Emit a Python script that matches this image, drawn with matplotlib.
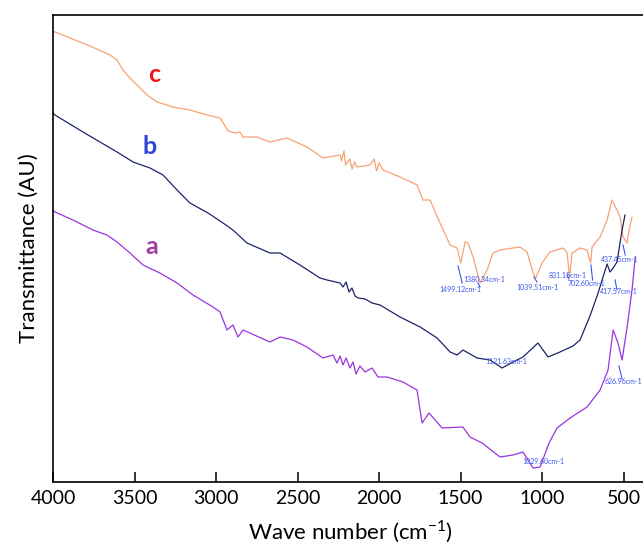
import matplotlib
matplotlib.use("Agg")
from matplotlib import pyplot as plt

plt.rcParams['font.family'] = ['Lato', 'DejaVu Sans']

# FTIR spectra (wavenumber cm-1, transmittance a.u.)
wn_c = [4000, 3988, 3896, 3773, 3650, 3607, 3571, 3528, 3466, 3423, 3362, 3301,
        3264, 3160, 3055, 2975, 2926, 2883, 2853, 2834, 2748, 2669, 2564, 2442,
        2344, 2239, 2230, 2215, 2205, 2196, 2180, 2165, 2150, 2135, 2055, 2030,
        2015, 2000, 1975, 1871, 1767, 1730, 1687, 1626, 1564, 1521, 1499, 1472,
        1454, 1423, 1380, 1337, 1301, 1258, 1178, 1135, 1092, 1055, 1039, 1000,
        951, 871, 847, 831, 816, 767, 724, 702, 693, 644, 601, 571, 540, 521,
        503, 478, 466, 448]
t_c = [450, 449, 443, 435, 426, 421, 411, 403, 393, 386, 379, 376,
       374, 371, 366, 363, 350, 348, 349, 344, 344, 339, 343, 334,
       323, 326, 320, 330, 316, 318, 322, 312, 319, 314, 316, 322,
       310, 318, 311, 304, 296, 281, 281, 258, 236, 233, 218, 239,
       238, 224, 198, 211, 228, 231, 233, 234, 229, 208, 203, 218,
       229, 233, 229, 204, 228, 233, 231, 218, 234, 244, 261, 281, 271, 264,
       244, 238, 251, 264]

wn_b = [4000, 3988, 3816, 3712, 3607, 3509, 3405, 3325, 3239, 3160, 3049, 2957,
        2896, 2810, 2669, 2607, 2485, 2362, 2319, 2239, 2221, 2202, 2184, 2166,
        2147, 2129, 2086, 2043, 1994, 1871, 1748, 1644, 1564, 1521, 1485, 1399,
        1319, 1245, 1178, 1117, 1025, 963, 890, 810, 767, 706, 656, 626, 601,
        583, 564, 540, 509, 491]
t_b = [368, 366, 349, 339, 329, 319, 313, 306, 291, 278, 268, 258,
       251, 238, 228, 228, 216, 203, 201, 198, 194, 199, 189, 193,
       185, 183, 182, 178, 176, 164, 154, 143, 129, 126, 131, 123,
       121, 113, 119, 124, 138, 124, 129, 135, 141, 165, 188, 204, 217,
       209, 213, 219, 251, 266]

wn_a = [4000, 3988, 3877, 3816, 3755, 3669, 3607, 3528, 3448, 3344, 3239, 3141,
        3049, 3018, 2975, 2933, 2896, 2865, 2834, 2669, 2607, 2528, 2442, 2344,
        2282, 2258, 2239, 2221, 2202, 2178, 2160, 2141, 2117, 2086, 2043, 2006,
        1951, 1853, 1767, 1736, 1693, 1613, 1485, 1442, 1368, 1258, 1178, 1117,
        1055, 1012, 957, 908, 828, 724, 644, 595, 564, 534, 509, 478, 448, 429]
t_a = [271, 269, 261, 256, 251, 246, 239, 228, 216, 208, 198, 186,
       177, 174, 169, 151, 156, 144, 151, 139, 144, 141, 134, 123,
       126, 118, 125, 116, 123, 113, 119, 107, 115, 109, 113, 104,
       104, 99, 91, 58, 68, 53, 54, 44, 38, 24, 26, 29,
       13, 14, 38, 53, 63, 74, 91, 111, 151, 138, 121, 154, 191, 223]

# peak labels: text, text position, leader line
peak_labels = ["1499.12cm-1", "1380.34cm-1", "1039.51cm-1", "831.15cm-1",
               "702.60cm-1", "437.45cm-1", "417.57cm-1", "1121.63cm-1",
               "1029.60cm-1", "626.96cm-1"]
peak_text_wn = [1503, 1356, 1031, 840, 730, 638, 644, 1350, 1123, 618]
peak_text_t = [192, 202, 193, 205, 198, 222, 189, 119, 19, 99]
peak_line_wn = [(1515, 1490), (1393, 1380), (1050, 1031), (847, 835), (700, 690),
                (503, 490), (552, 540), None, None, (528, 509)]
peak_line_t = [(215, 198), (198, 194), (204, 199), (206, 202), (216, 201),
               (236, 226), (201, 191), None, None, (115, 102)]

fig = plt.figure(figsize=(6.43, 5.51), dpi=100)
ax = fig.add_axes([53 / 643, 1 - 482 / 551, 595 / 643, 467 / 551])

ax.plot(wn_c, t_c, color='#f7a274', lw=0.9)
ax.plot(wn_b, t_b, color='#1c2468', lw=0.9)
ax.plot(wn_a, t_a, color='#9a35e0', lw=0.9)

blue = '#3b55f0'
for i, lab in enumerate(peak_labels):
    ha = 'center' if i < 5 else 'left'
    ax.text(peak_text_wn[i], peak_text_t[i], lab, color=blue, fontsize=5,
            ha=ha, va='center', clip_on=False)
    if peak_line_wn[i] is not None:
        ax.plot(peak_line_wn[i], peak_line_t[i], color=blue, lw=0.8)

ax.text(3380, 407, 'c', color='#f01818', fontsize=18, fontweight='bold',
        ha='center', va='center')
ax.text(3405, 334, 'b', color='#2f45d8', fontsize=18, fontweight='bold',
        ha='center', va='center')
ax.text(3395, 234, 'a', color='#a23c9e', fontsize=18, fontweight='bold',
        ha='center', va='center')

ax.set_xlim(4000, 350)
ax.set_ylim(-1, 466)
ax.set_xticks([4000, 3500, 3000, 2500, 2000, 1500, 1000, 500])
ax.set_yticks([])
ax.tick_params(axis='x', direction='in', length=7, width=1.1, labelsize=14, pad=6)
for s in ax.spines.values():
    s.set_linewidth(1.2)

ax.set_xlabel(r'Wave number (cm$^{\mathregular{-1}}$)', fontsize=16, labelpad=8)
ax.set_ylabel('Transmittance (AU)', fontsize=16, labelpad=10)

fig.savefig('out.png', dpi=100)
